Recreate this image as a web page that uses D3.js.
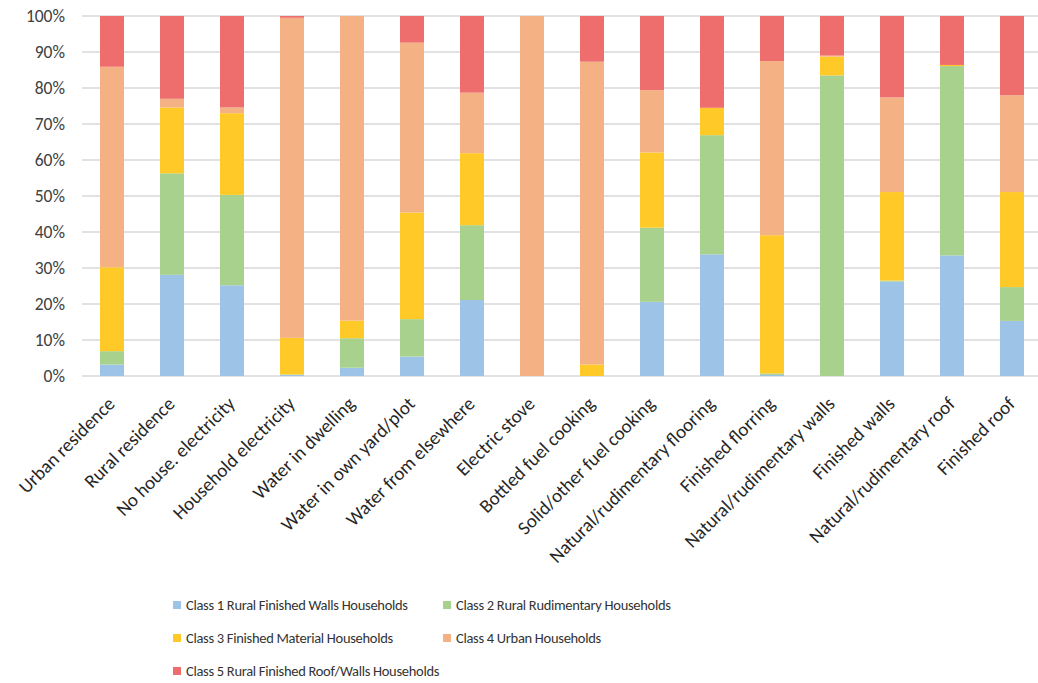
<!DOCTYPE html>
<html>
<head>
<meta charset="utf-8">
<script src="https://cdn.jsdelivr.net/npm/d3@7"></script>
<style>
  body { margin: 0; background: #fff; }
  text { font-family: Carlito, "Liberation Sans Narrow", "Open Sans", sans-serif; }
</style>
</head>
<body>
<div id="chart"></div>
<script>
const categories = ["Urban residence", "Rural residence", "No house. electricity", "Household electricity",
  "Water in dwelling", "Water in own yard/plot", "Water from elsewhere", "Electric stove",
  "Bottled fuel cooking", "Solid/other fuel cooking", "Natural/rudimentary flooring", "Finished florring",
  "Natural/rudimentary walls", "Finished walls", "Natural/rudimentary roof", "Finished roof"];

// percentages per class
const class1 = [3.2, 28.1, 25.2, 0.3, 2.3, 5.4, 21.1, 0, 0, 20.6, 33.8, 0.3, 0, 26.2, 33.5, 15.3];
const class2 = [3.7, 28.2, 25.1, 0.1, 8.2, 10.4, 20.8, 0, 0, 20.6, 33.1, 0.4, 83.5, 0.3, 52.6, 9.4];
const class3 = [23.3, 18.3, 22.7, 10.2, 4.9, 29.6, 20.0, 0, 3.2, 20.9, 7.6, 38.4, 5.2, 24.6, 0.3, 26.4];
const class4 = [55.7, 2.4, 1.6, 88.9, 84.6, 47.2, 16.8, 100, 84.1, 17.3, 0, 48.4, 0.3, 26.3, 0, 26.9];
const class5 = [14.1, 23.0, 25.4, 0.5, 0, 7.4, 21.3, 0, 12.7, 20.6, 25.5, 12.5, 11.0, 22.6, 13.6, 22.0];

const seriesNames = ["Class 1 Rural Finished Walls Households", "Class 2 Rural Rudimentary Households",
  "Class 3 Finished Material Households", "Class 4 Urban Households", "Class 5  Rural Finished Roof/Walls Households"];
const colors = ["#9DC3E6", "#A9D18E", "#FFCA28", "#F4B183", "#EE6E6E"];
const yTicks = [0, 10, 20, 30, 40, 50, 60, 70, 80, 90, 100];

const width = 1038, height = 683;
const svg = d3.select("#chart").append("svg")
  .attr("width", width)
  .attr("height", height);

const rows = categories.map((c, i) => ({
  cat: c, s0: class1[i], s1: class2[i], s2: class3[i], s3: class4[i], s4: class5[i]
}));
const keys = ["s0", "s1", "s2", "s3", "s4"];
const stacked = d3.stack().keys(keys)(rows);

const x = d3.scaleBand().domain(categories).range([82, 1042]).paddingInner(0.6).paddingOuter(0.3);
const y = d3.scaleLinear().domain([0, 100]).range([376, 16]);

// gridlines
svg.append("g")
  .selectAll("line")
  .data(yTicks)
  .enter().append("line")
  .attr("x1", 82).attr("x2", 1038)
  .attr("y1", d => y(d)).attr("y2", d => y(d))
  .attr("stroke", "#d9d9d9")
  .attr("stroke-width", 1.3);

// y labels
svg.append("g")
  .selectAll("text")
  .data(yTicks)
  .enter().append("text")
  .attr("x", 65)
  .attr("y", d => y(d))
  .attr("dy", "0.35em")
  .attr("text-anchor", "end")
  .attr("font-size", 17.5)
  .attr("fill", "#404040")
  .text(d => d + "%");

// bars
svg.append("g")
  .selectAll("g")
  .data(stacked)
  .enter().append("g")
  .attr("fill", (d, i) => colors[i])
  .selectAll("rect")
  .data(d => d)
  .enter().append("rect")
  .attr("x", d => x(d.data.cat))
  .attr("width", x.bandwidth())
  .attr("y", d => y(d[1]))
  .attr("height", d => y(d[0]) - y(d[1]));

// category labels
svg.append("g")
  .selectAll("text")
  .data(categories)
  .enter().append("text")
  .attr("transform", d => `translate(${x(d) + x.bandwidth() / 2 + 4},${405}) rotate(-45)`)
  .attr("text-anchor", "end")
  .attr("font-size", 19)
  .attr("fill", "#262626")
  .text(d => d);

// legend
const legendPos = [[173, 605], [443, 605], [173, 638], [443, 638], [173, 671]];
const legend = svg.append("g")
  .selectAll("g")
  .data(seriesNames)
  .enter().append("g")
  .attr("transform", (d, i) => `translate(${legendPos[i][0]},${legendPos[i][1]})`);
legend.append("rect")
  .attr("x", 0).attr("y", -4)
  .attr("width", 8).attr("height", 8)
  .attr("fill", (d, i) => colors[i]);
legend.append("text")
  .attr("x", 13)
  .attr("dy", "0.35em")
  .attr("font-size", 14.5)
  .attr("letter-spacing", -0.3)
  .attr("fill", "#333333")
  .text(d => d);
</script>
</body>
</html>
